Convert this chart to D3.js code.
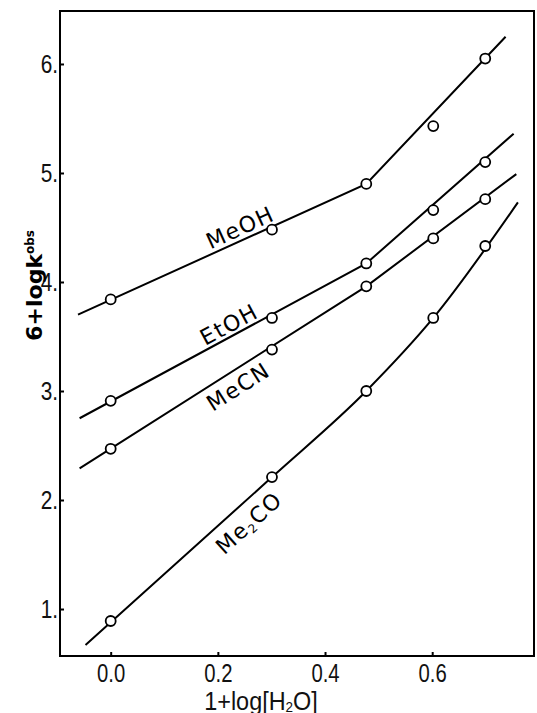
<!DOCTYPE html>
<html>
<head>
<meta charset="utf-8">
<script src="https://cdn.jsdelivr.net/npm/d3@7"></script>
<style>
  body { margin: 0; background: #fff; }
</style>
</head>
<body>
<div id="chart"></div>
<script>
// 1+log[H2O] at the five water concentrations
const waterX = [0, 0.301, 0.477, 0.602, 0.699];

// 6+log k_obs measured in each solvent
const meohY  = [3.84, 4.48, 4.90, 5.43, 6.05];
const etohY  = [2.91, 3.67, 4.17, 4.66, 5.10];
const mecnY  = [2.47, 3.38, 3.96, 4.40, 4.76];
const me2coY = [0.89, 2.21, 3.00, 3.67, 4.33];

// hand drawn fit lines (vertices in data units)
const meohFit  = [[-0.061, 3.70], [0.477, 4.90], [0.737, 6.25]];
const etohFit  = [[-0.058, 2.75], [0.477, 4.17], [0.752, 5.36]];
const mecnFit  = [[-0.058, 2.29], [0.477, 3.96], [0.757, 4.99]];
const me2coFit = [[-0.047, 0.67], [0.301, 2.21], [0.477, 3.00], [0.602, 3.67], [0.76, 4.73]];

const xTicks = [0, 0.2, 0.4, 0.6];
const yTicks = [1, 2, 3, 4, 5, 6];

const series = [
  { name: 'MeOH', ys: meohY, fit: meohFit },
  { name: 'EtOH', ys: etohY, fit: etohFit },
  { name: 'MeCN', ys: mecnY, fit: mecnFit },
  { name: 'Me2CO', ys: me2coY, fit: me2coFit }
];

// where the solvent names sit (label centre, data units)
const labelAt = { MeOH: [0.2416, 4.50], EtOH: [0.221, 3.61], MeCN: [0.238, 3.04], Me2CO: [0.258, 1.79] };

const W = 537, H = 713;
const svg = d3.select('#chart').append('svg')
    .attr('width', W)
    .attr('height', H);

const x = d3.scaleLinear().domain([-0.0946, 0.79]).range([60, 534]);
const y = d3.scaleLinear().domain([0.569, 6.486]).range([656, 11]);

// the print uses a narrow face, squeeze the glyphs a bit
function narrow(sel, k) {
  sel.each(function () {
    const w = this.getComputedTextLength();
    d3.select(this).attr('textLength', w * k).attr('lengthAdjust', 'spacingAndGlyphs');
  });
}

// frame
svg.append('rect')
    .attr('x', x.range()[0])
    .attr('y', y.range()[1])
    .attr('width', x.range()[1] - x.range()[0])
    .attr('height', y.range()[0] - y.range()[1])
    .attr('fill', 'none')
    .attr('stroke', '#000')
    .attr('stroke-width', 2);

// x axis
const gx = svg.append('g')
    .attr('transform', 'translate(0,' + y.range()[0] + ')')
    .call(d3.axisBottom(x).tickValues(xTicks).tickSize(-4).tickFormat(d3.format('.1f')));
gx.select('.domain').remove();
gx.selectAll('line').attr('stroke', '#000').attr('stroke-width', 2);
gx.selectAll('text')
    .attr('y', 26)
    .attr('dy', 0)
    .attr('fill', '#111')
    .style('font-family', 'Liberation Sans')
    .style('font-size', '26px')
    .call(narrow, 0.78);

// y axis
const gy = svg.append('g')
    .attr('transform', 'translate(' + x.range()[0] + ',0)')
    .call(d3.axisLeft(y).tickValues(yTicks).tickSize(-4).tickFormat(d => d + '.'));
gy.select('.domain').remove();
gy.selectAll('line').attr('stroke', '#000').attr('stroke-width', 2);
gy.selectAll('text')
    .attr('x', -2)
    .attr('dy', '0.32em')
    .attr('fill', '#111')
    .style('font-family', 'Liberation Sans')
    .style('font-size', '26px')
    .call(narrow, 0.8);

// fit lines (acetone one bends smoothly)
const line = d3.line().x(d => x(d[0])).y(d => y(d[1]));
const curved = d3.line().x(d => x(d[0])).y(d => y(d[1])).curve(d3.curveMonotoneX);
svg.append('g')
  .selectAll('path')
  .data(series)
  .enter().append('path')
    .attr('d', d => d.name === 'Me2CO' ? curved(d.fit) : line(d.fit))
    .attr('fill', 'none')
    .attr('stroke', '#000')
    .attr('stroke-width', 2);

// data points
svg.append('g')
  .selectAll('g')
  .data(series)
  .enter().append('g')
  .selectAll('circle')
  .data(d => d.ys.map((v, i) => [waterX[i], v]))
  .enter().append('circle')
    .attr('cx', d => x(d[0]))
    .attr('cy', d => y(d[1]))
    .attr('r', 5)
    .attr('fill', '#fff')
    .attr('stroke', '#000')
    .attr('stroke-width', 1.8);

// solvent names, turned along the first segment of their line
series.forEach(s => {
  const p0 = s.fit[0], p1 = s.fit[1];
  const ang = Math.atan2(y(p1[1]) - y(p0[1]), x(p1[0]) - x(p0[0])) * 180 / Math.PI;
  const c = labelAt[s.name];
  const t = svg.append('text')
      .attr('transform', 'translate(' + x(c[0]) + ',' + y(c[1]) + ') rotate(' + ang + ')')
      .attr('text-anchor', 'middle')
      .attr('dy', '0.35em')
      .style('font-family', 'DejaVu Sans')
      .style('font-size', '22px')
      .style('letter-spacing', '1.5px');
  if (s.name === 'Me2CO') {
    t.append('tspan').text('Me');
    t.append('tspan').attr('dy', 3).style('font-size', '12px').text('2');
    t.append('tspan').attr('dy', -3).text('CO');
  } else {
    t.text(s.name);
  }
});

// axis titles
const yl = svg.append('text')
    .attr('transform', 'translate(42,230) rotate(-90)')
    .attr('text-anchor', 'end')
    .style('font-family', 'DejaVu Sans')
    .style('font-weight', 'bold')
    .style('font-size', '22px');
yl.append('tspan').text('6+logk');
yl.append('tspan').attr('dy', -8).style('font-size', '12px').text('obs');

const xl = svg.append('text')
    .attr('x', 261)
    .attr('y', 710)
    .attr('text-anchor', 'middle')
    .attr('fill', '#111')
    .style('font-family', 'Liberation Sans')
    .style('font-size', '26px');
xl.append('tspan').text('1+log[H');
xl.append('tspan').attr('dy', 2).style('font-size', '15px').text('2');
xl.append('tspan').attr('dy', -2).text('O]');
xl.call(narrow, 0.9);
</script>
</body>
</html>
